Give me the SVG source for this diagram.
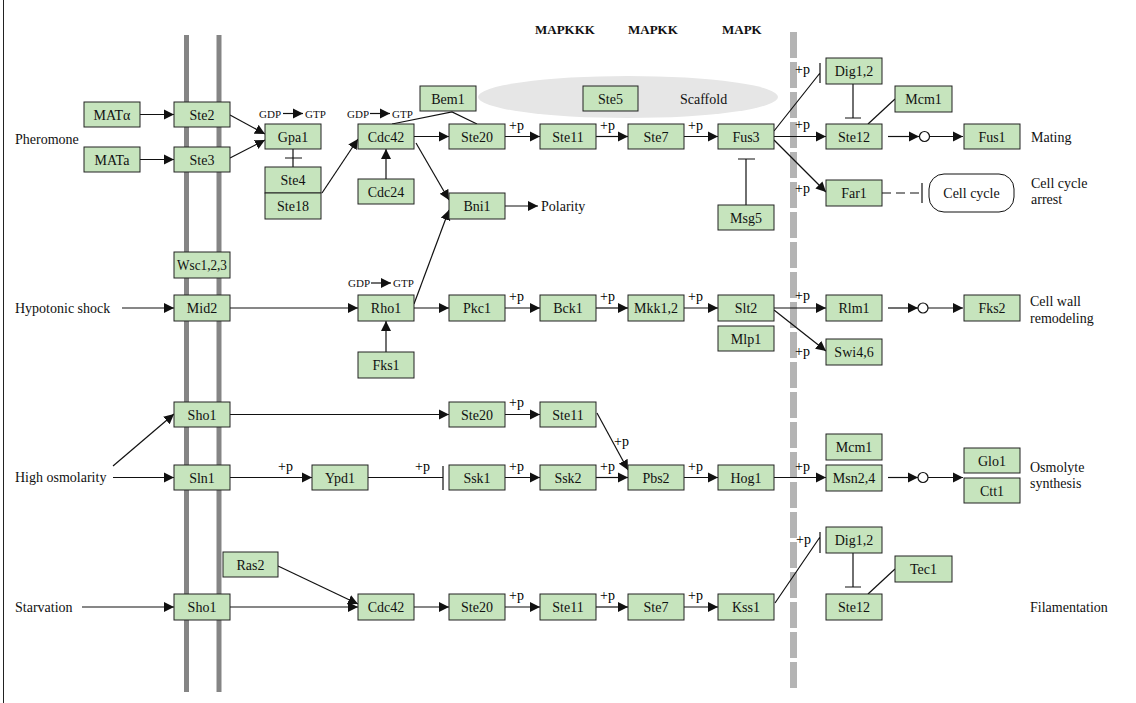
<svg xmlns="http://www.w3.org/2000/svg" width="1136" height="703" viewBox="0 0 1136 703">
<style>
.n rect{fill:#c6e4bd;stroke:#222;stroke-width:1}
.n text{font-family:"Liberation Serif",serif;font-size:14px;text-anchor:middle;fill:#111}
.lbl{font-family:"Liberation Serif",serif;font-size:14px;fill:#111}
.hd{font-family:"Liberation Serif",serif;font-size:13px;font-weight:bold;fill:#111}
.p{font-family:"Liberation Serif",serif;font-size:14px;fill:#000}
.g{font-family:"Liberation Serif",serif;font-size:11px;fill:#111}
#edges path{fill:none;stroke:#111;stroke-width:1.2}
#edges .a{marker-end:url(#ah)}
#edges .d{stroke-dasharray:9 5}
</style>
<defs>
<marker id="ah" viewBox="0 0 10 10" refX="10" refY="5" markerWidth="10" markerHeight="11" markerUnits="userSpaceOnUse" orient="auto"><path d="M0,0 L10,5 L0,10 z" fill="#111"/></marker>
</defs>
<rect width="1136" height="703" fill="#fff"/>
<line x1="3.5" y1="0" x2="3.5" y2="703" stroke="#222" stroke-width="1"/>
<ellipse cx="628" cy="97" rx="150" ry="21" fill="#e6e6e6"/>
<g id="membrane">
<line x1="186.5" y1="35" x2="186.5" y2="692" stroke="#858585" stroke-width="5"/>
<line x1="219" y1="35" x2="219" y2="692" stroke="#858585" stroke-width="5"/>
<line x1="793.5" y1="32" x2="793.5" y2="692" stroke="#b4b4b4" stroke-width="7" stroke-dasharray="26 4"/>
</g>
<g id="headers">
<text class="hd" x="535" y="34">MAPKKK</text>
<text class="hd" x="628" y="34">MAPKK</text>
<text class="hd" x="722" y="34">MAPK</text>
</g>
<g id="edges">
<path class="a" d="M140,114.5 H174"/>
<path class="a" d="M140,159.5 H174"/>
<path class="a" d="M230,115 L265,134"/>
<path class="a" d="M230,158 L265,140"/>
<path d="M293,149 V167 M285,158 H302"/>
<path class="a" d="M322,193 L358,139"/>
<path class="a" d="M386,179 V149"/>
<path class="a" d="M414,136.5 H449"/>
<path class="a" d="M416,143 L449,200"/>
<path d="M392,124 L452,112 L477,124"/>
<path class="a" d="M505,136.5 H540"/>
<path class="a" d="M596,136.5 H628"/>
<path class="a" d="M684,136.5 H718"/>
<path class="a" d="M505,206 H538"/>
<path d="M774,131 L820,73 M820,63 V83"/>
<path d="M853,84 V118 M845,118 H861"/>
<path d="M895,99 L868,124"/>
<path class="a" d="M774,136.5 H826"/>
<path class="a" d="M774,140 L826,192"/>
<path class="a" d="M888,136.5 H919"/>
<path class="a" d="M930,136.5 H963"/>
<path class="d" d="M882,193 H922"/>
<path d="M922,183 V203"/>
<path d="M746,205 V159 M738,159 H755"/>
<path class="a" d="M122,308 H174"/>
<path class="a" d="M230,308 H358"/>
<path class="a" d="M386,352 V321"/>
<path class="a" d="M414,304 L449,210"/>
<path class="a" d="M414,308 H449"/>
<path class="a" d="M505,308 H540"/>
<path class="a" d="M596,308 H628"/>
<path class="a" d="M684,308 H718"/>
<path class="a" d="M774,308 H826"/>
<path class="a" d="M774,310 L826,351"/>
<path class="a" d="M888,308 H918"/>
<path class="a" d="M928,308 H963"/>
<path class="a" d="M113,466 L174,414"/>
<path class="a" d="M113,477.5 H174"/>
<path class="a" d="M230,414.5 H449"/>
<path class="a" d="M505,414.5 H540"/>
<path class="a" d="M230,477.5 H312"/>
<path d="M368,477.5 H443 M443,466 V490"/>
<path class="a" d="M505,477.5 H540"/>
<path class="a" d="M596,477.5 H628"/>
<path class="a" d="M684,477.5 H718"/>
<path class="a" d="M774,477.5 H826"/>
<path class="a" d="M597,413 L628,470"/>
<path class="a" d="M888,477.5 H918"/>
<path class="a" d="M928,477.5 H963"/>
<path class="a" d="M82,607 H174"/>
<path class="a" d="M230,607 H358"/>
<path class="a" d="M278,566 L358,604"/>
<path class="a" d="M414,607 H449"/>
<path class="a" d="M505,607 H540"/>
<path class="a" d="M596,607 H628"/>
<path class="a" d="M684,607 H718"/>
<path d="M775,603 L820,537 M820,532 V553"/>
<path d="M853,553 V587 M845,587 H861"/>
<path d="M895,569 L868,594"/>
<path class="a" d="M283,113.5 H303"/>
<path class="a" d="M370,113.5 H390"/>
<path class="a" d="M371,283 H391"/>
</g>
<g id="circles" fill="#fff" stroke="#111" stroke-width="1.2">
<circle cx="924.5" cy="136.5" r="5"/>
<circle cx="923" cy="308" r="5"/>
<circle cx="923" cy="477.5" r="5"/>
</g>
<g id="plabels">
<text class="p" x="509" y="130">+p</text>
<text class="p" x="600" y="130">+p</text>
<text class="p" x="688" y="130">+p</text>
<text class="p" x="795" y="129">+p</text>
<text class="p" x="795" y="74">+p</text>
<text class="p" x="795" y="193">+p</text>
<text class="p" x="509" y="301">+p</text>
<text class="p" x="600" y="301">+p</text>
<text class="p" x="688" y="301">+p</text>
<text class="p" x="795" y="300">+p</text>
<text class="p" x="795" y="356">+p</text>
<text class="p" x="509" y="407">+p</text>
<text class="p" x="278" y="471">+p</text>
<text class="p" x="415" y="471">+p</text>
<text class="p" x="509" y="471">+p</text>
<text class="p" x="600" y="471">+p</text>
<text class="p" x="688" y="471">+p</text>
<text class="p" x="795" y="471">+p</text>
<text class="p" x="614" y="446">+p</text>
<text class="p" x="509" y="600">+p</text>
<text class="p" x="600" y="600">+p</text>
<text class="p" x="688" y="600">+p</text>
<text class="p" x="796" y="544">+p</text>
</g>
<g id="gdp">
<text class="g" x="259" y="118">GDP</text><text class="g" x="305" y="118">GTP</text>
<text class="g" x="347" y="118">GDP</text><text class="g" x="392" y="118">GTP</text>
<text class="g" x="348" y="287">GDP</text><text class="g" x="393" y="287">GTP</text>
</g>
<g id="labels">
<text class="lbl" x="15" y="144">Pheromone</text>
<text class="lbl" x="15" y="313">Hypotonic shock</text>
<text class="lbl" x="15" y="482">High osmolarity</text>
<text class="lbl" x="15" y="612">Starvation</text>
<text class="lbl" x="541" y="211">Polarity</text>
<text class="lbl" x="680" y="104">Scaffold</text>
<text class="lbl" x="1031" y="142">Mating</text>
<text class="lbl" x="1031" y="188">Cell cycle</text>
<text class="lbl" x="1031" y="204">arrest</text>
<text class="lbl" x="1030" y="306">Cell wall</text>
<text class="lbl" x="1030" y="323">remodeling</text>
<text class="lbl" x="1030" y="472">Osmolyte</text>
<text class="lbl" x="1030" y="488">synthesis</text>
<text class="lbl" x="1030" y="612">Filamentation</text>
</g>
<g id="n-mata1" class="n"><rect x="84" y="102" width="56" height="25"/><text x="112" y="120">MATα</text></g>
<g id="n-mata2" class="n"><rect x="84" y="147" width="56" height="25"/><text x="112" y="165">MATa</text></g>
<g id="n-ste2" class="n"><rect x="174" y="102" width="56" height="25"/><text x="202" y="120">Ste2</text></g>
<g id="n-ste3" class="n"><rect x="174" y="147" width="56" height="25"/><text x="202" y="165">Ste3</text></g>
<g id="n-gpa1" class="n"><rect x="265" y="124" width="56" height="25"/><text x="293" y="142">Gpa1</text></g>
<g id="n-ste4" class="n"><rect x="265" y="167" width="56" height="26"/><text x="293" y="185">Ste4</text></g>
<g id="n-ste18" class="n"><rect x="265" y="193" width="56" height="26"/><text x="293" y="211">Ste18</text></g>
<g id="n-cdc42a" class="n"><rect x="358" y="124" width="56" height="25"/><text x="386" y="142">Cdc42</text></g>
<g id="n-cdc24" class="n"><rect x="358" y="179" width="56" height="25"/><text x="386" y="197">Cdc24</text></g>
<g id="n-bem1" class="n"><rect x="420" y="86" width="56" height="25"/><text x="448" y="104">Bem1</text></g>
<g id="n-ste20a" class="n"><rect x="449" y="124" width="56" height="25"/><text x="477" y="142">Ste20</text></g>
<g id="n-bni1" class="n"><rect x="449" y="193" width="56" height="26"/><text x="477" y="211">Bni1</text></g>
<g id="n-ste11a" class="n"><rect x="540" y="124" width="56" height="25"/><text x="568" y="142">Ste11</text></g>
<g id="n-ste5" class="n"><rect x="583" y="86" width="55" height="25"/><text x="610.5" y="104">Ste5</text></g>
<g id="n-ste7a" class="n"><rect x="628" y="124" width="56" height="25"/><text x="656" y="142">Ste7</text></g>
<g id="n-fus3" class="n"><rect x="718" y="124" width="56" height="25"/><text x="746" y="142">Fus3</text></g>
<g id="n-msg5" class="n"><rect x="718" y="205" width="56" height="25"/><text x="746" y="223">Msg5</text></g>
<g id="n-dig12a" class="n"><rect x="826" y="58" width="56" height="26"/><text x="854" y="76">Dig1,2</text></g>
<g id="n-mcm1a" class="n"><rect x="895" y="86" width="57" height="26"/><text x="923.5" y="104">Mcm1</text></g>
<g id="n-ste12a" class="n"><rect x="826" y="124" width="56" height="25"/><text x="854" y="142">Ste12</text></g>
<g id="n-fus1" class="n"><rect x="964" y="124" width="56" height="25"/><text x="992" y="142">Fus1</text></g>
<g id="n-far1" class="n"><rect x="826" y="180" width="56" height="26"/><text x="854" y="198">Far1</text></g>
<g id="n-cellcycle"><rect x="929" y="174" width="85" height="38" rx="15" fill="#fff" stroke="#111" stroke-width="1"/><text class="lbl" x="971.5" y="198" text-anchor="middle">Cell cycle</text></g>
<g id="n-wsc" class="n"><rect x="174" y="252" width="56" height="26"/><text x="202" y="270" textLength="50" lengthAdjust="spacingAndGlyphs">Wsc1,2,3</text></g>
<g id="n-mid2" class="n"><rect x="174" y="295" width="56" height="26"/><text x="202" y="313">Mid2</text></g>
<g id="n-rho1" class="n"><rect x="358" y="295" width="56" height="26"/><text x="386" y="313">Rho1</text></g>
<g id="n-fks1" class="n"><rect x="358" y="352" width="56" height="26"/><text x="386" y="370">Fks1</text></g>
<g id="n-pkc1" class="n"><rect x="449" y="295" width="56" height="26"/><text x="477" y="313">Pkc1</text></g>
<g id="n-bck1" class="n"><rect x="540" y="295" width="56" height="26"/><text x="568" y="313">Bck1</text></g>
<g id="n-mkk12" class="n"><rect x="628" y="295" width="56" height="26"/><text x="656" y="313">Mkk1,2</text></g>
<g id="n-slt2" class="n"><rect x="718" y="295" width="56" height="26"/><text x="746" y="313">Slt2</text></g>
<g id="n-mlp1" class="n"><rect x="718" y="326" width="56" height="25"/><text x="746" y="344">Mlp1</text></g>
<g id="n-rlm1" class="n"><rect x="826" y="295" width="56" height="26"/><text x="854" y="313">Rlm1</text></g>
<g id="n-fks2" class="n"><rect x="964" y="295" width="56" height="26"/><text x="992" y="313">Fks2</text></g>
<g id="n-swi46" class="n"><rect x="826" y="339" width="56" height="26"/><text x="854" y="357">Swi4,6</text></g>
<g id="n-sho1a" class="n"><rect x="174" y="402" width="56" height="25"/><text x="202" y="420">Sho1</text></g>
<g id="n-sln1" class="n"><rect x="174" y="465" width="56" height="25"/><text x="202" y="483">Sln1</text></g>
<g id="n-ypd1" class="n"><rect x="312" y="465" width="56" height="25"/><text x="340" y="483">Ypd1</text></g>
<g id="n-ste20b" class="n"><rect x="449" y="402" width="56" height="25"/><text x="477" y="420">Ste20</text></g>
<g id="n-ste11b" class="n"><rect x="540" y="402" width="56" height="25"/><text x="568" y="420">Ste11</text></g>
<g id="n-ssk1" class="n"><rect x="449" y="465" width="56" height="25"/><text x="477" y="483">Ssk1</text></g>
<g id="n-ssk2" class="n"><rect x="540" y="465" width="56" height="25"/><text x="568" y="483">Ssk2</text></g>
<g id="n-pbs2" class="n"><rect x="628" y="465" width="56" height="25"/><text x="656" y="483">Pbs2</text></g>
<g id="n-hog1" class="n"><rect x="718" y="465" width="56" height="25"/><text x="746" y="483">Hog1</text></g>
<g id="n-mcm1b" class="n"><rect x="826" y="434" width="56" height="26"/><text x="854" y="452">Mcm1</text></g>
<g id="n-msn24" class="n"><rect x="826" y="465" width="56" height="26"/><text x="854" y="483">Msn2,4</text></g>
<g id="n-glo1" class="n"><rect x="964" y="448" width="56" height="25"/><text x="992" y="466">Glo1</text></g>
<g id="n-ctt1" class="n"><rect x="964" y="478" width="56" height="25"/><text x="992" y="496">Ctt1</text></g>
<g id="n-ras2" class="n"><rect x="223" y="552" width="55" height="25"/><text x="250.5" y="570">Ras2</text></g>
<g id="n-sho1b" class="n"><rect x="174" y="594" width="56" height="26"/><text x="202" y="612">Sho1</text></g>
<g id="n-cdc42b" class="n"><rect x="358" y="594" width="56" height="26"/><text x="386" y="612">Cdc42</text></g>
<g id="n-ste20c" class="n"><rect x="449" y="594" width="56" height="26"/><text x="477" y="612">Ste20</text></g>
<g id="n-ste11c" class="n"><rect x="540" y="594" width="56" height="26"/><text x="568" y="612">Ste11</text></g>
<g id="n-ste7b" class="n"><rect x="628" y="594" width="56" height="26"/><text x="656" y="612">Ste7</text></g>
<g id="n-kss1" class="n"><rect x="718" y="594" width="56" height="26"/><text x="746" y="612">Kss1</text></g>
<g id="n-dig12b" class="n"><rect x="826" y="527" width="56" height="26"/><text x="854" y="545">Dig1,2</text></g>
<g id="n-tec1" class="n"><rect x="895" y="556" width="57" height="26"/><text x="923.5" y="574">Tec1</text></g>
<g id="n-ste12b" class="n"><rect x="826" y="594" width="56" height="26"/><text x="854" y="612">Ste12</text></g>
</svg>
